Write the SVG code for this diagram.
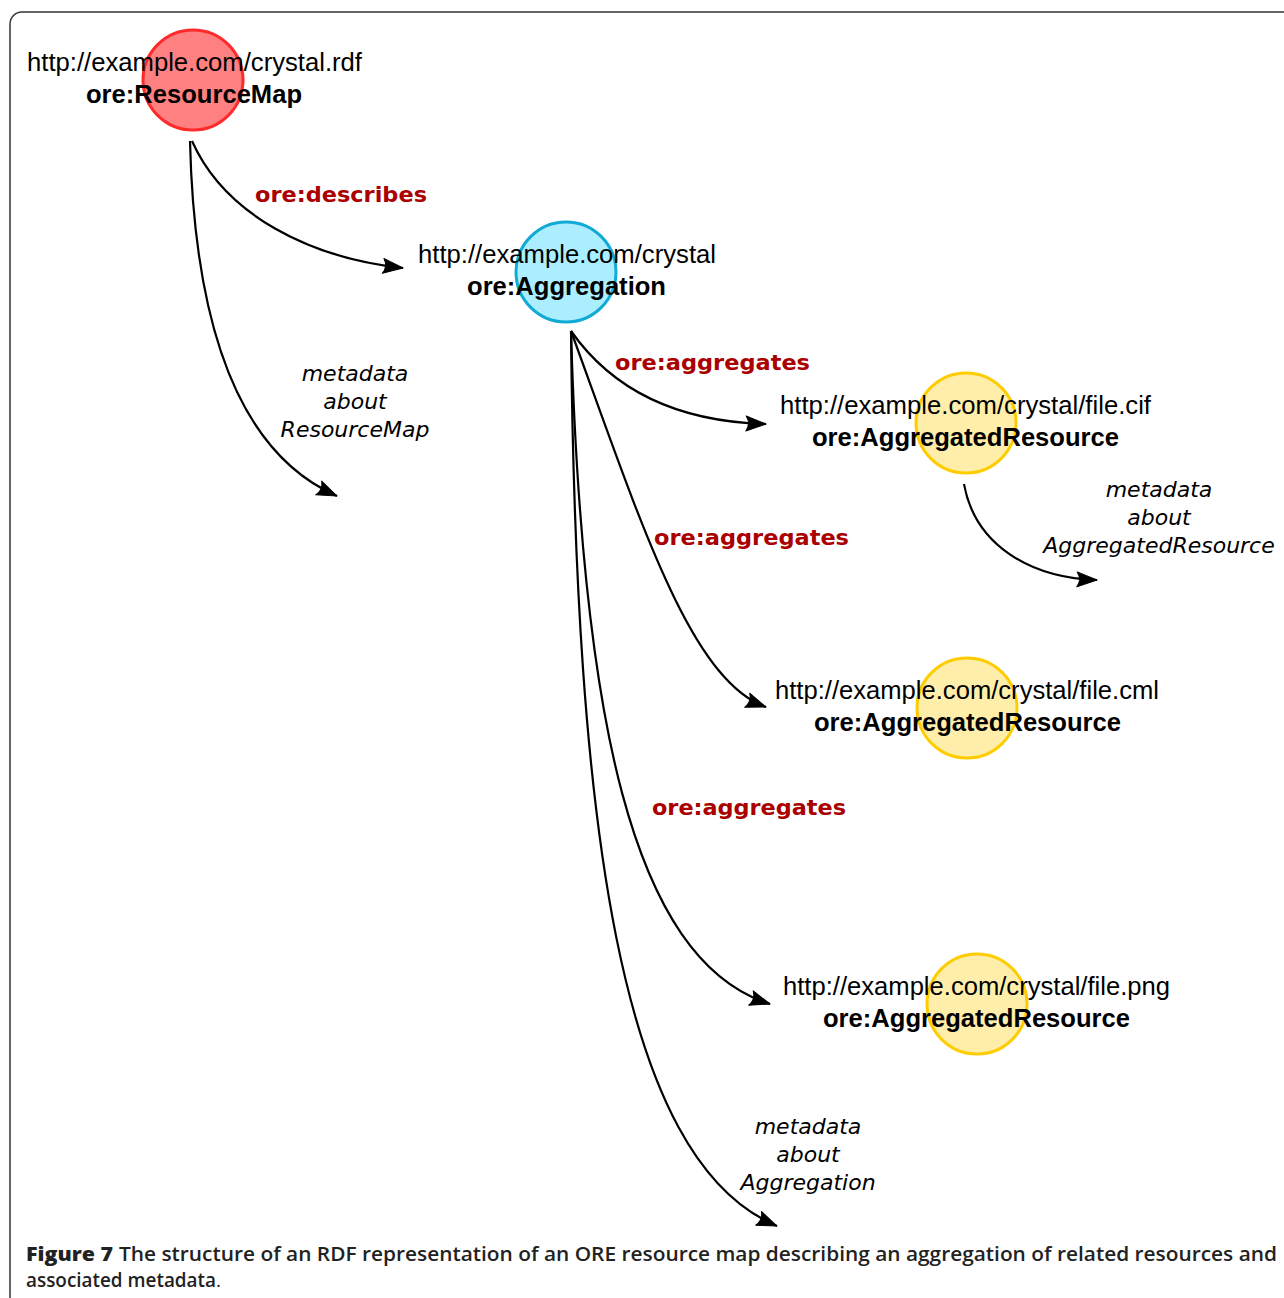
<svg xmlns="http://www.w3.org/2000/svg" width="1284" height="1298" viewBox="0 0 1284 1298">
<defs>
<marker id="arr" markerWidth="26" markerHeight="20" viewBox="-2 -10 26 20" refX="20" refY="0" orient="auto" markerUnits="userSpaceOnUse">
<path d="M0,-7.5 L20,0 L0,7.5 Q5,0 0,-7.5 Z" fill="#000" stroke="#000" stroke-width="1" stroke-linejoin="round"/>
</marker>
<style>
.url{font-family:"Liberation Sans",Arial,sans-serif;font-size:25px;fill:#000}
.cls{font-family:"Liberation Sans",Arial,sans-serif;font-size:25px;font-weight:bold;fill:#000}
.rel{font-family:"DejaVu Sans",sans-serif;font-size:22px;font-weight:bold;fill:#aa0000}
.meta{font-family:"DejaVu Sans",sans-serif;font-size:22px;font-style:oblique;fill:#000;text-anchor:middle}
.edge{fill:none;stroke:#000;stroke-width:2.2;marker-end:url(#arr)}
.cap{font-family:"Open Sans",sans-serif;font-size:19px;fill:#222}
</style>
</defs>
<rect x="0" y="0" width="1284" height="1298" fill="#fff"/>
<rect x="10" y="12" width="1290" height="1300" rx="12" fill="none" stroke="#333" stroke-width="1.5"/>

<g id="connectors">
<path class="edge" d="M192,141 C225,215 310,258 403,268"/>
<path class="edge" d="M190,141 C194,310 232,450 337,496"/>
<path class="edge" d="M571,331 C618,398 690,422 766,424"/>
<path class="edge" d="M571,331 C640,520 690,680 766,707"/>
<path class="edge" d="M571,331 C582,710 630,960 770,1004"/>
<path class="edge" d="M571,331 C576,820 618,1160 777,1226"/>
<path class="edge" d="M964,484 C975,545 1030,578 1097,580"/>
<text class="rel" x="255" y="202" textLength="172" lengthAdjust="spacingAndGlyphs">ore:describes</text>
<text class="rel" x="615" y="370" textLength="195" lengthAdjust="spacingAndGlyphs">ore:aggregates</text>
<text class="rel" x="654" y="545" textLength="195" lengthAdjust="spacingAndGlyphs">ore:aggregates</text>
<text class="rel" x="652" y="815" textLength="194" lengthAdjust="spacingAndGlyphs">ore:aggregates</text>
<text class="meta" x="355" y="381">metadata</text>
<text class="meta" x="355" y="409">about</text>
<text class="meta" x="355" y="437">ResourceMap</text>
<text class="meta" x="1159" y="497">metadata</text>
<text class="meta" x="1159" y="525">about</text>
<text class="meta" x="1159" y="553">AggregatedResource</text>
<text class="meta" x="808" y="1134">metadata</text>
<text class="meta" x="808" y="1162">about</text>
<text class="meta" x="808" y="1190">Aggregation</text>
</g>

<g id="resourcemap">
<circle cx="193" cy="80" r="50" fill="#ff8080" stroke="#ff2a2a" stroke-width="3"/>
<text class="url" x="27" y="71" textLength="335" lengthAdjust="spacingAndGlyphs">http://example.com/crystal.rdf</text>
<text class="cls" x="86" y="103" textLength="216" lengthAdjust="spacingAndGlyphs">ore:ResourceMap</text>
</g>

<g id="aggregation">
<circle cx="566" cy="272" r="50" fill="#aaeeff" stroke="#11aad5" stroke-width="3"/>
<text class="url" x="418" y="263" textLength="298" lengthAdjust="spacingAndGlyphs">http://example.com/crystal</text>
<text class="cls" x="467" y="295" textLength="199" lengthAdjust="spacingAndGlyphs">ore:Aggregation</text>
</g>

<g id="filecif">
<circle cx="966" cy="423" r="50" fill="#ffeeaa" stroke="#ffcc00" stroke-width="3"/>
<text class="url" x="780" y="414" textLength="371" lengthAdjust="spacingAndGlyphs">http://example.com/crystal/file.cif</text>
<text class="cls" x="812" y="446" textLength="307" lengthAdjust="spacingAndGlyphs">ore:AggregatedResource</text>
</g>

<g id="filecml">
<circle cx="967" cy="708" r="50" fill="#ffeeaa" stroke="#ffcc00" stroke-width="3"/>
<text class="url" x="775" y="699" textLength="384" lengthAdjust="spacingAndGlyphs">http://example.com/crystal/file.cml</text>
<text class="cls" x="814" y="731" textLength="307" lengthAdjust="spacingAndGlyphs">ore:AggregatedResource</text>
</g>

<g id="filepng">
<circle cx="977" cy="1004" r="50" fill="#ffeeaa" stroke="#ffcc00" stroke-width="3"/>
<text class="url" x="783" y="995" textLength="387" lengthAdjust="spacingAndGlyphs">http://example.com/crystal/file.png</text>
<text class="cls" x="823" y="1027" textLength="307" lengthAdjust="spacingAndGlyphs">ore:AggregatedResource</text>
</g>

<g id="caption">
<text class="cap" x="26" y="1261" font-weight="800" textLength="87" lengthAdjust="spacingAndGlyphs">Figure 7</text>
<text class="cap" x="119" y="1261" font-weight="600" textLength="1158" lengthAdjust="spacingAndGlyphs">The structure of an RDF representation of an ORE resource map describing an aggregation of related resources and</text>
<text class="cap" x="26" y="1287" font-weight="600" textLength="190" lengthAdjust="spacingAndGlyphs">associated metadata</text>
<text class="cap" x="216" y="1287" font-size="15">.</text>
</g>
</svg>
